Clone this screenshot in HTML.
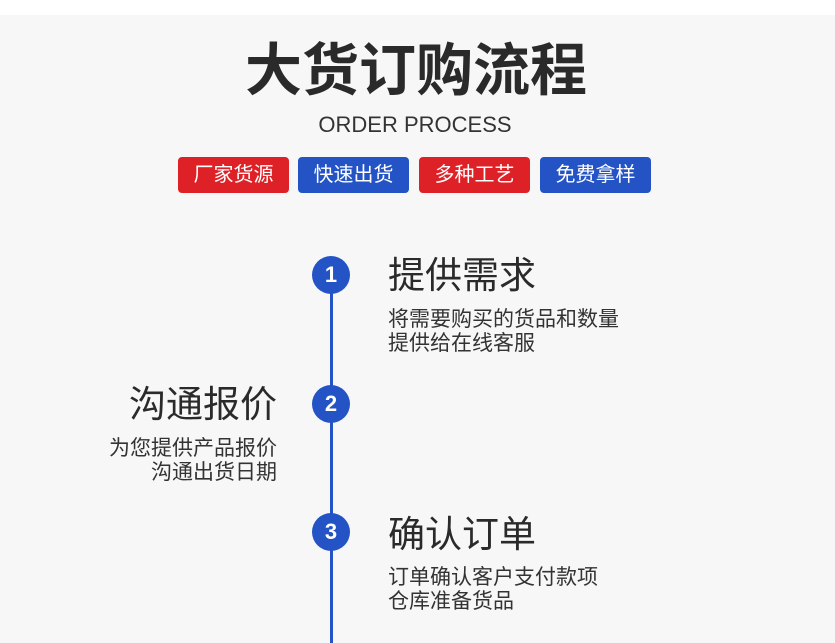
<!DOCTYPE html>
<html><head><meta charset="utf-8"><style>
body{margin:0;width:835px;height:643px;overflow:hidden;background:#fff;font-family:"Liberation Sans","Noto Sans CJK SC",sans-serif;}
.bg{position:absolute;left:0;top:15px;width:835px;height:628px;background:#f7f7f8;}
.a{position:absolute;white-space:nowrap;color:#2a2a2a;}
.b{position:absolute;top:157px;height:36px;width:111px;border-radius:4px;color:#fff;font-size:20px;line-height:36px;text-align:center;}
.r{background:#de2127}.u{background:#2353c4}
.c{position:absolute;left:312px;width:38px;height:38px;border-radius:50%;background:#2353c4;color:#fff;font-size:22px;font-weight:bold;line-height:38px;text-align:center;}
.t{font-size:37px;line-height:40px;}
.d{font-size:21px;line-height:24px;color:#333;}
</style></head><body>
<div class="bg"></div>
<div class="a" style="left:0;width:832px;text-align:center;top:38px;font-size:57px;font-weight:bold;line-height:66px;">大货订购流程</div>
<div class="a" style="left:0;width:830px;text-align:center;top:110px;font-size:22px;line-height:30px;color:#333;">ORDER PROCESS</div>
<div class="b r" style="left:178px">厂家货源</div>
<div class="b u" style="left:298px">快速出货</div>
<div class="b r" style="left:419px">多种工艺</div>
<div class="b u" style="left:540px">免费拿样</div>
<div style="position:absolute;left:330px;top:275px;width:3px;height:368px;background:#2353c4"></div>
<div class="c" style="top:256px">1</div>
<div class="c" style="top:385px">2</div>
<div class="c" style="top:513px">3</div>
<div class="a t" style="left:388px;top:256px">提供需求</div>
<div class="a d" style="left:388px;top:308px">将需要购买的货品和数量<br>提供给在线客服</div>
<div class="a t" style="right:558px;top:385px;text-align:right">沟通报价</div>
<div class="a d" style="right:558px;top:437px;text-align:right">为您提供产品报价<br>沟通出货日期</div>
<div class="a t" style="left:388px;top:515px">确认订单</div>
<div class="a d" style="left:388px;top:566px">订单确认客户支付款项<br>仓库准备货品</div>
</body></html>
